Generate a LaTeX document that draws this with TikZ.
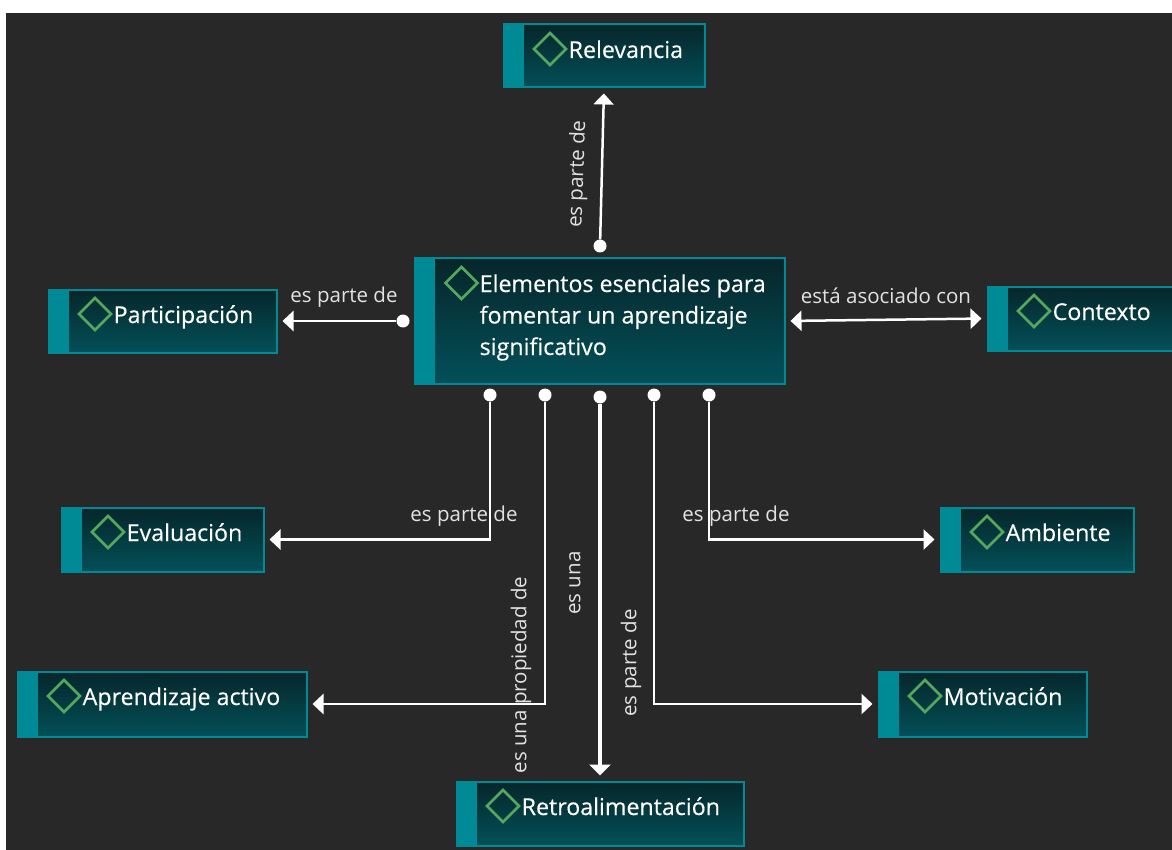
\documentclass[tikz,border=0pt]{standalone}
\usepackage{fontspec}
\setmainfont{Open Sans}
\usetikzlibrary{shapes.geometric,arrows.meta,calc}
\definecolor{bgdark}{HTML}{282828}
\definecolor{tealedge}{HTML}{008A96}
\definecolor{gradtop}{HTML}{06262A}
\definecolor{gradbot}{HTML}{035059}
\definecolor{dgreen}{HTML}{55A85E}
\definecolor{lbl}{HTML}{E2E2E2}
\newfontfamily\titlefont[FakeBold=0.4]{Open Sans}
\tikzset{
  x=1pt,y=-1pt,
  conceptbox/.style={draw=tealedge,line width=1pt,fill=tealedge,inner sep=0pt,
    path picture={\fill[top color=gradtop,bottom color=gradbot]
      ($(path picture bounding box.north west)+(21,0)$) rectangle (path picture bounding box.south east);
      \draw[tealedge,line width=3pt] (path picture bounding box.north west) rectangle (path picture bounding box.south east);}},
  marker/.style={diamond,draw=dgreen,line width=2.6pt,minimum width=33pt,minimum height=33pt,inner sep=0pt},
  title/.style={anchor=base west,text=white,font=\titlefont\fontsize{23.2}{31.5}\selectfont,inner sep=0pt,align=left},
  linklabel/.style={text=lbl,font=\fontsize{20.5}{24}\selectfont,inner sep=0pt},
  dot/.style={circle,fill=white,minimum size=13pt,inner sep=0pt},
  link/.style={draw=white,line width=2.5pt,-{Triangle[length=11pt,width=20pt]},shorten >=5pt},
}
\newcommand{\conceptnode}[6]{%
  \node[conceptbox,minimum width=#4-#2,minimum height=#5-#3] (#1) at ({(#2+#4)/2},{(#3+#5)/2}) {};
  \node[marker] (#1-m) at (#2+47,#3+25) {};
  \node[title] (#1-t) at (#2+65.5,#3+34) {#6};
}
\begin{document}
\begin{tikzpicture}
\useasboundingbox (0,0) rectangle (1172,850);
\fill[white] (0,0) rectangle (1172,850);
\fill[bgdark] (6,13) rectangle (1172,850);
\conceptnode{rel}{503}{24}{705}{88}{Relevancia}
\conceptnode{par}{48}{289}{277}{353}{Participación}
\conceptnode{ctx}{987}{286}{1178}{351}{Contexto}
\conceptnode{eva}{61}{507}{264}{572}{Evaluación}
\conceptnode{amb}{940}{507}{1134}{572}{Ambiente}
\conceptnode{apr}{17}{671}{307}{737}{Aprendizaje activo}
\conceptnode{mot}{878}{671}{1087}{737}{Motivación}
\conceptnode{ret}{456}{781}{744}{846}{Retroalimentación}
\node[conceptbox,minimum width=371,minimum height=126] (cen) at (599.5,321) {};
\node[marker] (cen-m) at (461.5,283) {};
\node[title] (cen-t) at (479.5,355) {Elementos esenciales para\\fomentar un aprendizaje\\significativo};
% dots
\node[dot] (dtop) at (600,246) {};
\node[dot] (dpar) at (403,321) {};
\node[dot] (d1) at (490,395) {};
\node[dot] (d2) at (545,395) {};
\node[dot] (d3) at (600,397) {};
\node[dot] (d4) at (654,395) {};
\node[dot] (d5) at (709,395) {};
% connectors
\draw[link] (dtop) -- (rel.south);
\draw[link] (dpar) -- (par.east);
\draw[link,{Triangle[length=11pt,width=20pt]}-{Triangle[length=11pt,width=20pt]},shorten <=5pt] (cen.east) -- (ctx.west);
\draw[link] (d1) |- (eva.east);
\draw[link] (d2) |- (apr.east);
\draw[link,line width=3.5pt,-{Triangle[length=11pt,width=21pt]}] (d3) -- (ret.north);
\draw[link] (d4) |- (mot.west);
\draw[link] (d5) |- (amb.west);
% labels
\node[linklabel,rotate=88] (l1) at (578,174) {es parte de};
\node[linklabel] (l2) at (344,297) {es parte de};
\node[linklabel] (l3) at (886,296) {está asociado con};
\node[linklabel] (l4) at (464,516) {es parte de};
\node[linklabel] (l5) at (736,516) {es parte de};
\node[linklabel,rotate=90] (l6) at (521,675) {es una propiedad de};
\node[linklabel,rotate=90] (l7) at (575,583) {es una};
\node[linklabel,rotate=90] (l8) at (631,663) {es parte de};
\end{tikzpicture}
\end{document}
